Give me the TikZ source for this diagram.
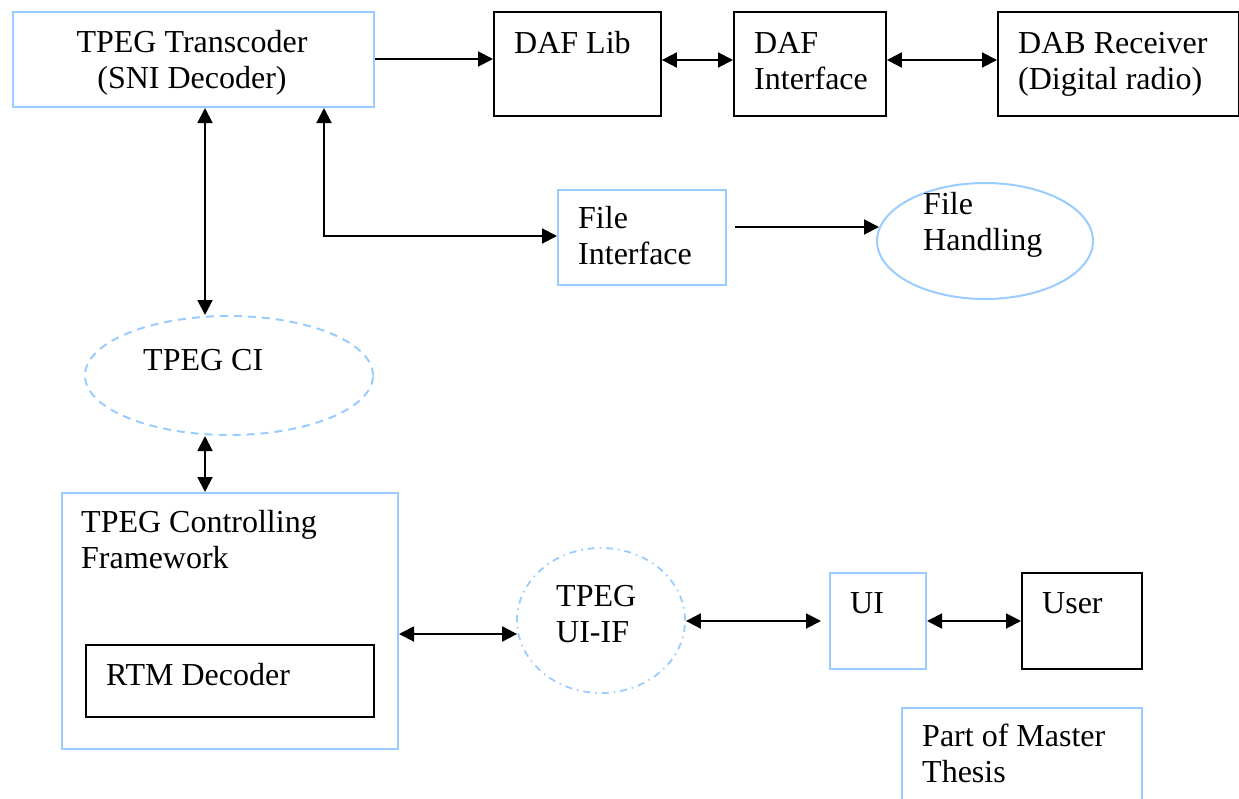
\documentclass[tikz,border=0pt]{standalone}
\usepackage{fontspec}
\setmainfont{Liberation Serif}
\usetikzlibrary{arrows.meta,shapes.geometric}
\definecolor{lblue}{HTML}{99CCFF}
\tikzset{
  bluebox/.style={draw=lblue,line width=2pt,rectangle,inner sep=0pt,anchor=north west},
  blackbox/.style={draw=black,line width=1.9pt,rectangle,inner sep=0pt,anchor=north west},
  lbl/.style={anchor=base west,inner sep=0pt,font=\fontsize{32}{36}\selectfont,align=left},
  tip/.tip={Triangle[length=15pt,width=15pt]},
  conn/.style={line width=1.9pt,-tip},
  biconn/.style={line width=1.9pt,tip-tip}
}
\begin{document}
\begin{tikzpicture}[x=1pt,y=-1pt]
\useasboundingbox (0,0) rectangle (1239,798);
\clip (0,0) rectangle (1239,798);
\fill[white] (0,0) rectangle (1239,798);
% boxes
\node[bluebox,minimum width=361,minimum height=95] (tc) at (12,11) {};
\node[blackbox,minimum width=167,minimum height=104] (daflib) at (493,11) {};
\node[blackbox,minimum width=152,minimum height=104] (dafif) at (733,11) {};
\node[blackbox,minimum width=241,minimum height=104] (dab) at (997,11) {};
\node[bluebox,minimum width=168,minimum height=95] (fi) at (557,189) {};
\node[ellipse,draw=lblue,line width=2pt,minimum width=216,minimum height=116,inner sep=0pt] (fh) at (985,241) {};
\node[ellipse,draw=lblue,line width=2pt,dash pattern=on 8pt off 6pt,minimum width=288,minimum height=119,inner sep=0pt] (ci) at (229,375.5) {};
\node[bluebox,minimum width=336,minimum height=256] (cf) at (61,492) {};
\node[blackbox,minimum width=288,minimum height=72] (rtm) at (85,644) {};
\node[ellipse,draw=lblue,line width=1.8pt,dash pattern=on 7pt off 5pt on 1.5pt off 5pt,minimum width=168,minimum height=145,inner sep=0pt] (uiif) at (601,620.5) {};
\node[bluebox,minimum width=96,minimum height=96] (ui) at (829,572) {};
\node[blackbox,minimum width=120,minimum height=96] (user) at (1021,572) {};
\node[bluebox,minimum width=240,minimum height=120] (pmt) at (901,707) {};
% labels (base = baseline of last line)
\node[anchor=base,inner sep=0pt,font=\fontsize{32}{36}\selectfont,align=center] (tct) at (192,88) {TPEG Transcoder\\(SNI Decoder)};
\node[lbl] (daflibt) at (514,53) {DAF Lib};
\node[lbl] (dafift) at (754,89) {DAF\\Interface};
\node[lbl] (dabt) at (1018,89) {DAB Receiver\\(Digital radio)};
\node[lbl] (fit) at (578,264) {File\\Interface};
\node[lbl] (fht) at (923,250) {File\\Handling};
\node[lbl] (cit) at (143,370) {TPEG CI};
\node[lbl] (cft) at (81,568) {TPEG Controlling\\Framework};
\node[lbl] (rtmt) at (106,685) {RTM Decoder};
\node[lbl] (uiift) at (556,642) {TPEG\\UI-IF};
\node[lbl] (uit) at (850,613) {UI};
\node[lbl] (usert) at (1042,613) {User};
\node[lbl] (pmtt) at (922,782) {Part of Master\\Thesis};
% connectors
\coordinate (corner) at (324,236);
\draw[conn] (tc.east |- 0,59) -- (daflib.west |- 0,59);
\draw[biconn] (daflib.east |- 0,60) -- (dafif.west |- 0,60);
\draw[biconn] (dafif.east |- 0,60) -- (dab.west |- 0,60);
\draw[biconn] (tc.south -| 205,0) -- (ci.north -| 205,0);
\draw[biconn] (tc.south -| corner) -- (corner) -- (fi.west |- corner);
\draw[conn] ([xshift=8pt]fi.east |- 0,227) -- ([xshift=3pt]fh.west |- 0,227);
\draw[biconn] (ci.south -| 205,0) -- (cf.north -| 205,0);
\draw[biconn] (cf.east |- 0,634) -- ([xshift=1pt]uiif.west |- 0,634);
\draw[biconn] (uiif.east |- 0,621) -- ([xshift=-8pt]ui.west |- 0,621);
\draw[biconn] (ui.east |- 0,621) -- (user.west |- 0,621);
\end{tikzpicture}
\end{document}
